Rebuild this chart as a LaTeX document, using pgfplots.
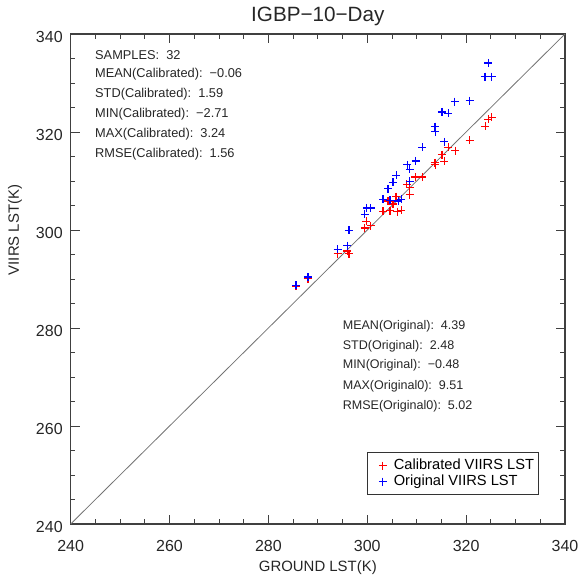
\documentclass[border=0pt]{standalone}
\usepackage{fontspec}
\setmainfont{Liberation Sans}
\usepackage{pgfplots}
\pgfplotsset{compat=1.18}

% Calibrated VIIRS LST against ground LST (K)
\pgfplotstableread{
x      y
325.2  323.0
324.5  322.6
323.9  321.2
320.7  318.3
316.4  316.9
317.8  316.2
315.1  315.4
313.7  313.7
313.8  313.3
315.6  314.0
309.7  310.8
311.1  310.8
308.0  309.3
308.6  308.6
308.6  307.2
305.8  306.8
305.2  305.3
304.2  305.9
303.2  303.8
304.6  303.9
306.1  303.7
306.9  304.0
299.8  301.8
299.5  300.4
300.7  300.9
294.0  295.2
296.0  295.7
296.3  295.2
288.0  290.1
285.6  288.5
}\calibrated

% Original VIIRS LST against ground LST (K)
\pgfplotstableread{
x      y
324.5  334.1
323.8  331.3
325.2  331.3
317.7  326.2
320.7  326.4
315.1  324.1
316.4  323.8
313.7  321.1
313.8  320.1
315.6  318.0
311.1  316.9
309.8  314.1
308.1  313.3
308.6  312.4
305.9  311.2
305.2  309.7
304.2  308.4
308.6  309.9
303.2  306.3
304.6  306.1
306.3  305.9
306.9  306.3
299.9  304.5
300.7  304.5
299.5  303.2
296.3  299.9
294.0  296.1
296.0  296.8
288.0  290.4
285.6  288.7
}\original

\definecolor{calred}{RGB}{255,0,0}
\definecolor{origblue}{RGB}{0,0,255}

\begin{document}
\begin{tikzpicture}[x=0.75pt,y=0.75pt]
\path[use as bounding box] (-70.7,-53) rectangle (513.3,524);
\begin{axis}[
  at={(0,0)}, anchor=south west,
  width=370.7pt, height=367.5pt, scale only axis,
  xmin=240, xmax=340, ymin=240, ymax=340,
  xtick={240,260,...,340}, ytick={240,260,...,340},
  minor x tick num=3, minor y tick num=3,
  major tick length=6.75pt, minor tick length=3.4pt,
  tick style={black!75, line width=0.6pt},
  axis line style={black!75, line width=0.8pt},
  /pgf/number format/assume math mode=true,
  tick label style={font=\fontsize{12}{14}\selectfont, text=black!85},
  xticklabel style={yshift=-9pt},
  yticklabel style={xshift=-2.5pt, yshift=-2pt},
  clip=false,
  legend cell align=left,
  legend image code/.code={%
    \path (-10.25pt,0pt) (6pt,0pt);
    \draw[#1] plot coordinates {(0pt,0pt)};},
  legend style={at={(rel axis cs:0.5994,0.0592)}, anchor=south west,
    draw=black!80, line width=0.6pt, inner xsep=1pt, inner ysep=4.25pt,
    font=\fontsize{11}{12}\selectfont, row sep=1pt,
    nodes={inner ysep=1pt, text height=7.5pt, text depth=1.5pt}},
]
\addplot[black!55, line width=0.6pt, no marks, forget plot] coordinates {(240,240) (340,340)};
\addplot[only marks, mark=+, mark size=3pt, color=calred,
  mark options={draw=calred, solid, line width=0.9pt}] table[x=x,y=y] {\calibrated};
\addlegendentry{Calibrated VIIRS LST}
\addplot[only marks, mark=+, mark size=3pt, color=origblue,
  mark options={draw=origblue, solid, line width=0.9pt}] table[x=x,y=y] {\original};
\addlegendentry{Original VIIRS LST}

\node[font=\fontsize{15.5}{17}\selectfont, text=black!85] at (rel axis cs:0.5,1+17.5/490) {IGBP\textminus10\textminus Day};
\node[font=\fontsize{11.2}{13}\selectfont, text=black!85] at (rel axis cs:0.5,-44/490) {GROUND LST(K)};
\node[font=\fontsize{11.2}{13}\selectfont, text=black!85, rotate=90] at (rel axis cs:-55.7/494.3,0.6) {VIIRS LST(K)};

\begin{scope}[every node/.style={font=\fontsize{9.6}{10}\selectfont, text=black!85, anchor=west, inner sep=0pt}]
\node at (axis cs:244.9,335.7) {SAMPLES:\ \ 32};
\node at (axis cs:244.9,331.8) {MEAN(Calibrated):\ \ \textminus0.06};
\node at (axis cs:244.9,327.8) {STD(Calibrated):\ \ 1.59};
\node at (axis cs:244.9,323.7) {MIN(Calibrated):\ \ \textminus2.71};
\node at (axis cs:244.9,319.6) {MAX(Calibrated):\ \ 3.24};
\node at (axis cs:244.9,315.5) {RMSE(Calibrated):\ \ 1.56};
\end{scope}
\begin{scope}[every node/.style={font=\fontsize{9.4}{10}\selectfont, text=black!85, anchor=west, inner sep=0pt}]
\node at (axis cs:295.0,280.3) {MEAN(Original):\ \ 4.39};
\node at (axis cs:295.0,276.2) {STD(Original):\ \ 2.48};
\node at (axis cs:295.0,272.3) {MIN(Original):\ \ \textminus0.48};
\node at (axis cs:295.0,268.2) {MAX(Original0):\ \ 9.51};
\node at (axis cs:295.0,264.1) {RMSE(Original0):\ \ 5.02};
\end{scope}
\end{axis}
\end{tikzpicture}
\end{document}
